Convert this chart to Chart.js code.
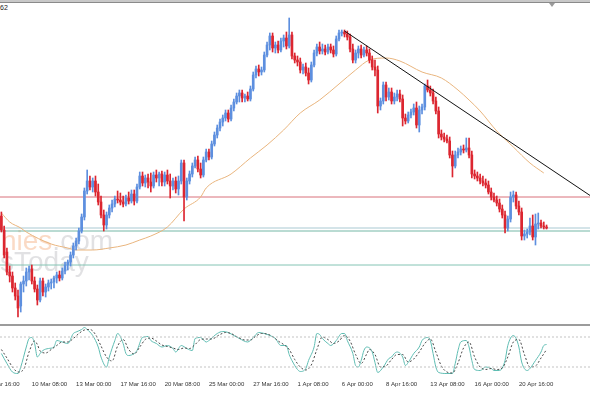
<!DOCTYPE html>
<html lang="en">
<head>
<meta charset="UTF-8">
<title>H4 chart</title>
<script src="https://cdn.jsdelivr.net/npm/chart.js"></script>
<style>
body { margin:0; width:590px; height:393px; background:#fff; position:relative; overflow:hidden; font-family:"Liberation Sans", Arial, sans-serif; }
#topbar { position:absolute; left:0; top:0; width:590px; height:2px; background:#c8c8c8; border-bottom:1px solid #8a8a8a; }
#shift { position:absolute; left:549px; top:3px; width:0; height:0; border-left:3px solid transparent; border-right:3px solid transparent; border-top:4px solid #9a9a9a; }
#title { position:absolute; left:0; top:4px; font-size:7px; color:#222; }
#sep { position:absolute; left:0; top:324px; width:590px; height:2px; background:#9c9c9c; }
#main { position:absolute; left:0; top:3px; width:590px; height:321px; }
#stoch { position:absolute; left:0; top:324px; width:590px; height:69px; }
</style>
</head>
<body>
<div id="topbar"></div>
<div id="title">62</div>
<div id="main"><canvas id="priceChart"></canvas></div>
<div id="stoch"><canvas id="stochChart"></canvas></div>
<div id="sep"></div>
<div id="shift"></div>

<script>
// H4 candles, 6 Mar 12:00 .. 22 Apr 08:00
const opens = [
  184,170,148,128,124,112,104,94,116,119,
  128,131,119,111,100,119,108,113,117,118,
  122,125,122,129,135,138,145,154,159,169,
  183,209,219,213,219,208,198,185,175,185,
  192,196,201,200,198,196,202,199,206,199,
  213,224,217,222,218,214,225,222,226,218,
  225,219,214,219,211,219,237,203,219,226,
  234,240,231,225,240,248,243,256,265,272,
  278,282,287,281,292,298,304,307,302,304,
  301,311,325,331,328,330,345,355,364,352,
  355,350,359,362,354,365,344,340,338,330,
  333,327,320,335,347,353,349,351,348,353,
  350,346,361,367,368,366,363,351,340,347,
  351,345,350,347,340,333,330,294,299,315,
  303,308,299,303,306,301,282,279,285,288,
  292,275,290,293,314,310,307,299,289,266,
  263,261,259,245,234,245,248,251,250,252,
  245,226,224,222,219,217,215,208,203,200,
  197,191,185,172,181,203,205,194,188,164,
  166,168,174,163,176,177,174,173
];
const highs = [
  188,174,152,134,128,117,110,118,124,132,
  134,135,123,115,122,122,116,120,121,124,
  128,129,132,138,140,148,157,162,172,186,
  212,230,224,222,224,216,204,190,188,195,
  200,204,209,207,204,205,208,210,210,216,
  228,228,225,226,227,228,230,228,229,228,
  230,226,222,223,224,240,240,222,229,237,
  243,244,237,243,251,251,259,268,275,281,
  285,290,290,295,301,307,310,310,306,308,
  314,328,334,335,333,348,358,367,367,358,
  359,362,365,368,382,368,347,344,342,336,
  337,332,338,350,356,358,356,355,356,356,
  354,364,370,370,370,369,366,356,350,354,
  355,353,354,351,344,340,334,302,318,318,
  312,312,307,310,310,305,286,288,291,296,
  298,294,296,316,320,314,311,303,293,270,
  267,265,263,249,249,252,254,255,262,262,
  249,230,228,226,224,221,219,212,207,204,
  201,195,189,184,208,209,208,199,192,170,
  171,182,185,186,187,180,178,175
];
const lows = [
  168,142,125,118,108,100,83,88,108,114,
  120,116,108,95,98,104,103,109,111,112,
  117,119,120,126,130,134,142,150,156,167,
  180,206,210,208,204,195,182,169,171,182,
  188,193,197,195,193,194,196,197,195,197,
  211,214,213,212,208,212,218,214,214,214,
  216,202,210,207,205,216,179,200,216,223,
  232,228,222,223,238,240,241,254,262,269,
  274,279,278,279,289,296,298,298,298,299,
  299,309,322,324,325,328,343,350,348,347,
  347,348,353,351,352,341,337,334,327,326,
  324,316,318,333,344,346,346,345,346,347,
  343,344,359,364,363,360,348,337,337,342,
  342,343,344,337,330,324,287,290,296,299,
  300,296,296,299,298,274,276,277,282,285,
  272,268,286,290,308,304,296,286,262,260,
  258,257,242,223,232,242,245,247,248,242,
  222,221,219,216,214,212,206,200,198,194,
  188,182,167,169,178,198,191,185,160,160,
  162,165,160,155,171,172,171,171
];
const closes = [
  170,145,128,124,112,104,92,116,119,128,
  131,119,111,100,119,108,113,117,118,122,
  125,122,129,135,138,145,154,159,169,183,
  209,219,213,219,208,198,185,175,185,192,
  196,201,200,198,196,202,199,206,199,213,
  224,217,222,218,214,225,222,226,218,225,
  219,214,219,211,219,237,203,219,226,234,
  240,231,225,240,248,243,256,265,272,278,
  282,287,281,292,298,304,307,302,304,301,
  311,325,331,328,330,345,355,364,352,355,
  350,359,362,354,365,344,340,338,330,333,
  327,320,335,347,353,349,351,348,353,350,
  346,361,367,368,366,363,351,340,347,351,
  345,350,347,340,333,330,294,299,315,303,
  308,299,303,306,301,282,279,285,288,292,
  275,290,293,314,310,307,299,289,266,263,
  261,259,245,234,245,248,251,250,252,245,
  226,224,222,219,217,215,208,203,200,197,
  191,185,172,181,203,205,194,188,164,166,
  168,174,163,176,177,174,173,172
];

// moving average, read at some bars
const maIdx = [0,3,7,9,18,24,27,33,39,45,50,54,60,66,72,74,83,90,96,102,108,115,122,128,133,139,144,152,159,165,169,173,179,185,191,196];
const maVal = [187,178,172,168,156,152,150,150,152,155,160,164,173,191,203,212,226,242,255,270,287,300,316,330,340,342,339,328,322,310,300,289,269,253,237,227];

// objects on the chart
const levels = [203, 172, 169, 135];
const levelColors = ['#d9707a', '#a9c9d2', '#74b7a6', '#84c4b4'];
const trendIdx = [124, 213];
const trendVal = [369, 204];

// stochastic %K (solid) and %D (dashed)
const kIdx = [0,2,4,6,7,9,10,11,12,13,14,15,17,19,20,22,24,26,27,29,30,31,33,35,36,38,39,41,42,44,45,46,48,49,51,53,54,56,58,60,62,63,65,67,69,70,72,74,75,78,80,82,84,86,89,91,93,95,97,99,101,103,104,105,107,108,110,111,113,114,115,116,118,119,121,123,124,125,127,128,129,130,131,132,134,135,136,138,140,141,142,143,145,146,147,149,151,152,154,155,156,157,158,161,163,164,165,166,168,169,170,171,173,175,177,178,180,182,183,185,186,187,188,190,191,193,195,196,197];
const kVal = [47,27,10,7,20,60,77,79,67,40,47,53,57,60,73,70,67,87,90,95,99,95,83,60,40,20,40,73,87,67,47,43,47,53,79,81,73,67,60,63,57,50,63,57,53,77,79,70,73,87,91,89,83,77,70,79,89,87,83,77,63,63,45,33,15,11,17,33,60,87,85,77,67,63,73,87,87,73,47,23,20,33,53,60,50,29,9,20,37,40,47,50,40,23,29,47,60,73,79,73,47,20,9,7,7,27,53,70,73,60,33,15,13,20,17,13,13,33,63,83,77,60,30,13,17,33,50,63,65];
const dIdx = [0,2,4,6,8,10,12,13,14,16,18,20,22,24,26,28,30,32,34,36,38,40,42,44,46,48,50,52,54,56,58,60,62,64,66,68,70,72,74,76,79,81,83,85,88,90,92,94,96,98,100,102,104,106,108,110,112,114,116,118,120,122,124,126,128,130,132,133,135,137,139,141,143,145,147,149,151,153,155,157,159,161,163,165,167,169,171,173,175,177,179,181,183,185,187,189,191,193,195,197];
const dVal = [55,38,20,10,15,50,72,65,52,48,55,63,70,70,77,87,94,95,85,62,40,32,62,75,55,46,60,75,78,72,64,61,58,55,58,57,65,75,76,76,85,89,87,81,74,74,82,87,86,81,72,65,55,35,20,14,24,55,80,75,67,72,83,72,45,27,46,55,45,20,22,35,45,45,30,36,50,67,76,50,22,10,8,28,58,70,40,20,15,17,15,18,40,70,75,45,20,22,38,55];
const stochLevels = [80, 20];

// time axis
const tickIdx = [-5, 11, 27, 43, 59, 75, 91, 107, 123, 139, 155, 171, 187];
const tickText = ['5 Mar 16:00','10 Mar 08:00','13 Mar 00:00','17 Mar 16:00','20 Mar 08:00','25 Mar 00:00','27 Mar 16:00','1 Apr 08:00','6 Apr 00:00','8 Apr 16:00','13 Apr 08:00','16 Apr 00:00','20 Apr 16:00'];

const X_MIN = -0.5, X_MAX = 212.7;
const BULL = '#5d8fdf', BEAR = '#dc2630';

const colors = closes.map((c, i) => c >= opens[i] ? BULL : BEAR);
const wicks = closes.map((c, i) => ({x: i, y: [lows[i], highs[i]]}));
const bodies = closes.map((c, i) => ({x: i, y: [opens[i], c]}));
const pairs = (xs, ys) => xs.map((x, i) => ({x: x, y: ys[i]}));

// watermark behind the candles
const watermark = {
  id: 'watermark',
  beforeDatasetsDraw(chart) {
    const c = chart.ctx;
    c.save();
    c.font = '28px "Liberation Sans", Arial, sans-serif';
    c.textBaseline = 'alphabetic';
    c.fillStyle = 'rgba(240,150,90,0.35)';
    c.fillText('nies', 1, 247);
    const w = c.measureText('nies').width;
    c.fillStyle = 'rgba(170,170,175,0.35)';
    c.fillText('.com', 1 + w, 247);
    c.fillText('sToday', 0, 268);
    c.restore();
  }
};

const levelSets = levels.map((v, k) => ({
  type: 'line', data: [{x: X_MIN, y: v}, {x: X_MAX, y: v}],
  borderColor: levelColors[k], borderWidth: 1, pointRadius: 0, order: 5
}));

new Chart(document.getElementById('priceChart'), {
  type: 'bar',
  data: {
    datasets: [
      ...levelSets,
      { type: 'line', data: pairs(maIdx, maVal), borderColor: '#e9b57e', borderWidth: 1,
        pointRadius: 0, cubicInterpolationMode: 'monotone', order: 4 },
      { type: 'line', data: pairs(trendIdx, trendVal), borderColor: '#111', borderWidth: 1,
        pointRadius: 0, order: 0 },
      { data: wicks, backgroundColor: colors, barThickness: 1, grouped: false, order: 2 },
      { data: bodies, backgroundColor: colors, barThickness: 2, minBarLength: 1, grouped: false, order: 1 }
    ]
  },
  options: {
    responsive: true,
    maintainAspectRatio: false,
    animation: false,
    events: [],
    layout: { padding: 0 },
    plugins: { legend: { display: false }, tooltip: { enabled: false } },
    scales: {
      x: { type: 'linear', min: X_MIN, max: X_MAX, display: false, offset: false },
      y: { min: 76, max: 397, display: false }
    }
  },
  plugins: [watermark]
});

new Chart(document.getElementById('stochChart'), {
  type: 'line',
  data: {
    datasets: [
      ...stochLevels.map(v => ({ data: [{x: X_MIN, y: v}, {x: X_MAX, y: v}], borderColor: '#c4c4c4',
        borderWidth: 1, borderDash: [2, 2], pointRadius: 0 })),
      { data: pairs(dIdx, dVal), borderColor: '#4a4a4a', borderWidth: 1, borderDash: [2, 2],
        pointRadius: 0, cubicInterpolationMode: 'monotone' },
      { data: pairs(kIdx, kVal), borderColor: '#5fbdb3', borderWidth: 1,
        pointRadius: 0, cubicInterpolationMode: 'monotone' }
    ]
  },
  options: {
    responsive: true,
    maintainAspectRatio: false,
    animation: false,
    events: [],
    layout: { padding: { top: 3, left: 0, right: 0, bottom: 0 } },
    plugins: { legend: { display: false }, tooltip: { enabled: false } },
    scales: {
      x: {
        type: 'linear', min: X_MIN, max: X_MAX,
        grid: { display: false, drawTicks: false },
        border: { display: false },
        afterBuildTicks: (s) => { s.ticks = tickIdx.map(v => ({value: v})); },
        afterFit: (s) => { s.height = 16; s.paddingLeft = 0; s.paddingRight = 0; },
        ticks: {
          autoSkip: false, maxRotation: 0, align: 'start', padding: 4,
          color: '#333', font: { family: '"Liberation Sans", Arial, sans-serif', size: 6 },
          callback: (v) => tickText[tickIdx.indexOf(v)]
        }
      },
      y: { min: 0, max: 100, display: false }
    }
  }
});
</script>
</body>
</html>
